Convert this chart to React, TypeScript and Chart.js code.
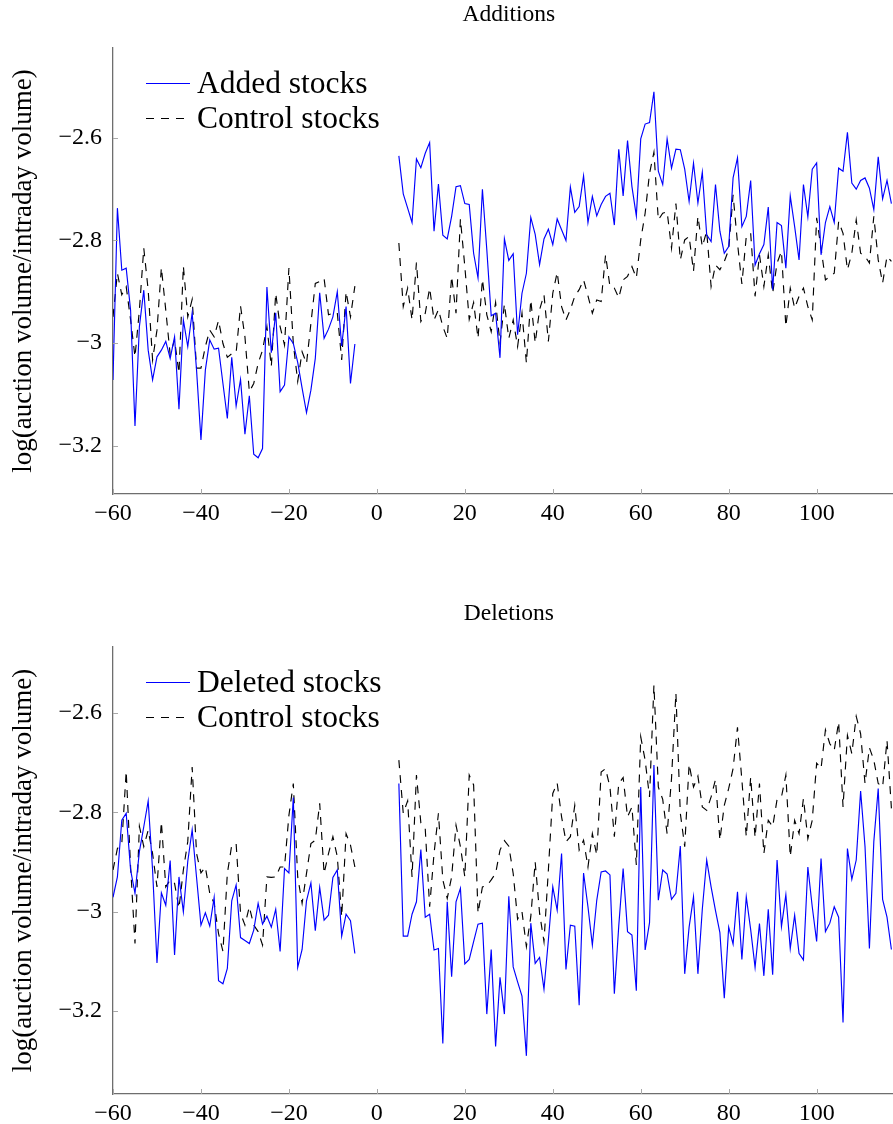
import React, { useEffect, useRef } from "react";
import { Chart, registerables } from "chart.js";

Chart.register(...registerables);

// ---------- data ----------
const PRE_FIRST_DAY = -60;
const PRE_LAST_DAY = -5;
const POST_FIRST_DAY = 5;
const POST_LAST_DAY = 117;

const xTickValues = [-60, -40, -20, 0, 20, 40, 60, 80, 100];
const yTickValues = [-2.6, -2.8, -3, -3.2];

// Additions panel
const addedPre = [
  -3.072, -2.737, -2.858, -2.854, -2.936, -3.162, -2.968, -2.897, -3.014, -3.072,
  -3.027, -3.014, -2.997, -3.03, -2.988, -3.129, -2.955, -3.007, -2.941, -3.053,
  -3.189, -3.053, -2.994, -3.012, -3.01, -3.079, -3.147, -3.028, -3.123, -3.071,
  -3.178, -3.103, -3.217, -3.224, -3.206, -2.891, -3.019, -2.941, -3.095, -3.082,
  -2.988, -3.001, -3.038, -3.088, -3.136, -3.092, -3.03, -2.902, -2.991, -2.973,
  -2.949, -2.9, -3.006, -2.929, -3.079, -3.002,
];
const addedPost = [
  -2.635, -2.709, -2.737, -2.765, -2.641, -2.658, -2.63, -2.609, -2.782, -2.69,
  -2.79, -2.797, -2.753, -2.695, -2.693, -2.728, -2.73, -2.825, -2.873, -2.7,
  -2.818, -2.947, -2.942, -3.029, -2.797, -2.839, -2.826, -2.984, -2.903, -2.864,
  -2.755, -2.788, -2.847, -2.797, -2.778, -2.808, -2.758, -2.779, -2.8, -2.696,
  -2.745, -2.734, -2.674, -2.765, -2.714, -2.752, -2.73, -2.714, -2.708, -2.77,
  -2.622, -2.713, -2.605, -2.695, -2.752, -2.602, -2.573, -2.57, -2.51, -2.665,
  -2.691, -2.602, -2.659, -2.622, -2.623, -2.661, -2.724, -2.649, -2.727, -2.667,
  -2.789, -2.802, -2.691, -2.782, -2.825, -2.812, -2.678, -2.639, -2.773, -2.753,
  -2.683, -2.848, -2.826, -2.808, -2.735, -2.896, -2.765, -2.771, -2.854, -2.713,
  -2.773, -2.838, -2.691, -2.754, -2.661, -2.649, -2.828, -2.765, -2.734, -2.765,
  -2.659, -2.665, -2.589, -2.688, -2.7, -2.683, -2.678, -2.698, -2.74, -2.637,
  -2.719, -2.683, -2.728,
];
const addControlPre = [
  -2.949, -2.864, -2.906, -2.89, -2.955, -3.027, -2.936, -2.815, -2.897, -3.033,
  -2.975, -2.853, -2.936, -3.023, -2.994, -3.059, -2.85, -2.949, -2.915, -3.049,
  -3.049, -3.007, -2.975, -2.988, -2.956, -3.001, -3.028, -3.021, -3.019, -2.928,
  -2.988, -3.095, -3.079, -3.04, -3.014, -2.968, -3.046, -2.903, -2.968, -3.004,
  -2.854, -3.001, -3.075, -3.017, -3.04, -2.962, -2.884, -2.88, -2.874, -2.945,
  -2.942, -2.941, -3.033, -2.9, -2.949, -2.889,
];
const addControlPost = [
  -2.805, -2.929, -2.893, -2.955, -2.843, -2.958, -2.942, -2.893, -2.955, -2.935,
  -2.968, -2.991, -2.87, -2.942, -2.758, -2.851, -2.954, -2.921, -2.991, -2.876,
  -2.945, -2.978, -2.921, -3.0, -2.924, -2.991, -2.955, -3.007, -2.942, -3.039,
  -2.916, -3.0, -2.935, -2.906, -2.997, -2.903, -2.862, -2.929, -2.955, -2.935,
  -2.909, -2.896, -2.877, -2.908, -2.942, -2.916, -2.919, -2.828, -2.89, -2.893,
  -2.912, -2.877, -2.87, -2.851, -2.873, -2.799, -2.747, -2.669, -2.628, -2.76,
  -2.747, -2.744, -2.815, -2.728, -2.838, -2.799, -2.792, -2.86, -2.753, -2.812,
  -2.782, -2.89, -2.848, -2.857, -2.841, -2.818, -2.711, -2.805, -2.885, -2.792,
  -2.786, -2.909, -2.828, -2.89, -2.828, -2.903, -2.844, -2.821, -2.968, -2.893,
  -2.932, -2.909, -2.893, -2.929, -2.955, -2.756, -2.815, -2.877, -2.87, -2.864,
  -2.763, -2.786, -2.857, -2.825, -2.76, -2.825, -2.831, -2.844, -2.753, -2.838,
  -2.883, -2.831, -2.841,
];

// Deletions panel
const deletedPre = [
  -2.971, -2.93, -2.816, -2.802, -2.916, -2.963, -2.879, -2.829, -2.777, -2.916,
  -3.103, -2.962, -2.987, -2.897, -3.087, -2.93, -3.0, -2.899, -2.835, -2.931,
  -3.027, -3.002, -3.029, -2.971, -3.139, -3.145, -3.114, -2.978, -2.946, -3.052,
  -3.058, -3.064, -3.037, -2.983, -3.025, -3.009, -3.031, -2.995, -3.08, -2.913,
  -2.922, -2.77, -3.112, -3.076, -2.978, -2.942, -3.038, -2.951, -3.017, -3.007,
  -2.931, -2.916, -3.049, -3.005, -3.018, -3.084,
];
const deletedPost = [
  -2.742, -3.049, -3.049, -3.005, -2.98, -2.875, -3.011, -3.005, -3.077, -3.074,
  -3.265, -2.98, -3.131, -2.98, -2.953, -3.105, -3.096, -3.06, -3.025, -3.023,
  -3.206, -3.076, -3.271, -3.132, -3.206, -2.969, -3.111, -3.141, -3.17, -3.29,
  -3.023, -3.104, -3.092, -3.156, -3.057, -2.95, -2.997, -2.883, -3.116, -3.027,
  -3.029, -3.188, -2.922, -2.99, -3.067, -2.977, -2.92, -2.918, -2.926, -3.165,
  -3.029, -2.913, -3.04, -3.047, -3.159, -2.749, -3.077, -3.022, -2.705, -2.977,
  -2.916, -2.924, -2.975, -2.963, -2.868, -3.125, -3.031, -2.97, -3.125, -2.995,
  -2.896, -2.95, -2.998, -3.042, -3.174, -3.031, -3.065, -2.96, -3.096, -2.97,
  -3.036, -3.112, -3.024, -3.129, -2.995, -3.127, -2.896, -3.03, -2.966, -3.074,
  -3.007, -3.084, -3.097, -2.91, -2.99, -3.06, -2.893, -3.04, -3.023, -2.99,
  -3.011, -3.223, -2.873, -2.935, -2.896, -2.757, -2.869, -3.074, -2.859, -2.752,
  -2.975, -3.011, -3.076,
];
const delControlPre = [
  -2.916, -2.873, -2.863, -2.717, -2.91, -3.064, -2.828, -2.869, -2.836, -2.883,
  -2.95, -2.819, -2.95, -2.936, -2.943, -2.993, -2.916, -2.859, -2.709, -2.883,
  -2.922, -2.91, -2.963, -2.983, -3.044, -3.08, -2.923, -2.866, -2.863, -3.003,
  -3.027, -2.99, -3.027, -3.04, -3.067, -2.93, -2.931, -2.93, -2.91, -2.91,
  -2.806, -2.742, -2.93, -2.983, -2.923, -2.863, -2.856, -2.782, -2.923, -2.883,
  -2.849, -2.889, -3.01, -2.843, -2.866, -2.91,
];
const delControlPost = [
  -2.695, -2.802, -2.777, -2.93, -2.725, -2.821, -2.833, -2.99, -2.883, -2.802,
  -2.936, -2.973, -2.93, -2.826, -2.869, -2.93, -2.725, -2.745, -3.003, -2.95,
  -2.948, -2.936, -2.923, -2.876, -2.857, -2.868, -2.923, -3.015, -3.0, -3.07,
  -3.01, -2.9, -3.003, -3.06, -2.916, -2.762, -2.741, -2.809, -2.859, -2.849,
  -2.786, -2.876, -2.856, -2.91, -2.843, -2.886, -2.719, -2.712, -2.749, -2.849,
  -2.742, -2.73, -2.809, -2.789, -2.906, -2.648, -2.695, -2.769, -2.544, -2.749,
  -2.774, -2.843, -2.732, -2.56, -2.802, -2.869, -2.703, -2.749, -2.727, -2.789,
  -2.796, -2.769, -2.734, -2.856, -2.786, -2.752, -2.712, -2.629, -2.735, -2.849,
  -2.729, -2.851, -2.742, -2.883, -2.816, -2.829, -2.774, -2.769, -2.725, -2.889,
  -2.816, -2.843, -2.772, -2.853, -2.816, -2.701, -2.712, -2.634, -2.662, -2.675,
  -2.618, -2.789, -2.645, -2.682, -2.607, -2.642, -2.742, -2.67, -2.695, -2.742,
  -2.749, -2.655, -2.792,
];

// ---------- helpers ----------
function dayList(first: number, last: number): number[] {
  const out: number[] = [];
  for (let d = first; d <= last; d++) out.push(d);
  return out;
}
const preDays = dayList(PRE_FIRST_DAY, PRE_LAST_DAY);
const postDays = dayList(POST_FIRST_DAY, POST_LAST_DAY);

function buildSeries(pre: number[], post: number[]) {
  return [
    ...preDays.map((d, i) => ({ x: d, y: pre[i] })),
    { x: 0, y: null as any },
    ...postDays.map((d, i) => ({ x: d, y: post[i] })),
  ];
}

const fmt = (v: number) => {
  const a = Math.abs(v);
  const s = String(Math.round(a * 10) / 10);
  return v < 0 ? "\u2212" + s : s;
};

const FONT = "'Liberation Serif', 'Times New Roman', serif";
const CANVAS_W = 940;
const CANVAS_H = 526;
const PLOT_RIGHT = 904.6;
const DASH = [8, 7];

type PanelProps = {
  title: string;
  mainLabel: string;
  mainPre: number[];
  mainPost: number[];
  ctrlPre: number[];
  ctrlPost: number[];
  yMin: number;
  yMax: number;
  top: number;
  areaTop: number;
  areaBottom: number;
};

function Panel(p: PanelProps) {
  const ref = useRef<HTMLCanvasElement | null>(null);

  useEffect(() => {
    if (!ref.current) return;

    const decor = {
      id: "decor",
      afterDraw(chart: any) {
        const ctx = chart.ctx;
        const area = chart.chartArea;
        const xs = chart.scales.x;
        const ys = chart.scales.y;
        ctx.save();
        // inward tick marks
        ctx.strokeStyle = "#a8a8a8";
        ctx.lineWidth = 1;
        xTickValues.forEach((v) => {
          const px = Math.round(xs.getPixelForValue(v)) + 0.5;
          ctx.beginPath();
          ctx.moveTo(px, area.bottom);
          ctx.lineTo(px, area.bottom - 5);
          ctx.stroke();
        });
        yTickValues.forEach((v) => {
          const py = Math.round(ys.getPixelForValue(v)) + 0.5;
          ctx.beginPath();
          ctx.moveTo(area.left, py);
          ctx.lineTo(area.left + 5, py);
          ctx.stroke();
        });
        // title
        ctx.fillStyle = "#000";
        ctx.font = `23.5px ${FONT}`;
        ctx.textAlign = "center";
        ctx.textBaseline = "middle";
        ctx.fillText(p.title, (area.left + area.right) / 2, area.top - 33);
        // legend
        ctx.font = `31.5px ${FONT}`;
        ctx.textAlign = "left";
        ctx.textBaseline = "alphabetic";
        chart.data.datasets.forEach((ds: any, i: number) => {
          const y = area.top + 35 + i * 35;
          ctx.save();
          ctx.strokeStyle = ds.borderColor;
          ctx.lineWidth = ds.borderWidth;
          ctx.setLineDash(ds.borderDash || []);
          ctx.beginPath();
          ctx.moveTo(area.left + 33, y + 0.5);
          ctx.lineTo(area.left + 77, y + 0.5);
          ctx.stroke();
          ctx.restore();
          ctx.fillStyle = "#000";
          ctx.fillText(ds.label, area.left + 84, y + 10);
        });
        ctx.restore();
      },
    };

    const chart = new Chart(ref.current, {
      type: "line",
      data: {
        datasets: [
          {
            label: p.mainLabel,
            data: buildSeries(p.mainPre, p.mainPost),
            borderColor: "#0000ff",
            borderWidth: 1.15,
            pointRadius: 0,
            tension: 0,
            fill: false,
            spanGaps: false,
          },
          {
            label: "Control stocks",
            data: buildSeries(p.ctrlPre, p.ctrlPost),
            borderColor: "#000000",
            borderWidth: 1.15,
            borderDash: DASH,
            pointRadius: 0,
            tension: 0,
            fill: false,
            spanGaps: false,
          },
        ],
      } as any,
      options: {
        responsive: false,
        animation: false,
        events: [],
        layout: {
          padding: { left: 0, top: p.areaTop, right: CANVAS_W - PLOT_RIGHT, bottom: 0 },
        },
        plugins: {
          legend: { display: false },
          tooltip: { enabled: false },
          title: { display: false },
        },
        scales: {
          x: {
            type: "linear",
            min: -60,
            max: 120,
            afterBuildTicks: (s: any) => {
              s.ticks = xTickValues.map((v) => ({ value: v }));
            },
            afterFit: (s: any) => {
              s.height = CANVAS_H - p.areaBottom;
            },
            grid: { display: false, drawTicks: false },
            border: { display: true, color: "#6e6e6e", width: 1.3 },
            ticks: {
              font: { family: FONT, size: 24 },
              color: "#000",
              padding: 5,
              maxRotation: 0,
              autoSkip: false,
              callback: (v: any) => fmt(Number(v)),
            },
          },
          y: {
            type: "linear",
            min: p.yMin,
            max: p.yMax,
            afterBuildTicks: (s: any) => {
              s.ticks = yTickValues.map((v) => ({ value: v }));
            },
            afterFit: (s: any) => {
              s.width = 113;
            },
            grid: { display: false, drawTicks: false },
            border: { display: true, color: "#6e6e6e", width: 1.3 },
            ticks: {
              font: { family: FONT, size: 24 },
              color: "#000",
              padding: 11,
              autoSkip: false,
              callback: (v: any) => fmt(Number(v)),
            },
            title: {
              display: true,
              text: "log(auction volume/intraday volume)",
              font: { family: FONT, size: 27 },
              color: "#000",
              padding: { top: 8, bottom: 0 },
            },
          },
        },
      } as any,
      plugins: [decor],
    });

    return () => chart.destroy();
  }, []);

  return (
    <canvas
      ref={ref}
      width={CANVAS_W}
      height={CANVAS_H}
      style={{ position: "absolute", left: 0, top: p.top, width: CANVAS_W, height: CANVAS_H, display: "block" }}
    />
  );
}

export default function App() {
  return (
    <div
      style={{
        position: "fixed",
        left: 0,
        top: 0,
        width: 893,
        height: 1124,
        overflow: "hidden",
        background: "#ffffff",
      }}
    >
      <Panel
        title="Additions"
        mainLabel="Added stocks"
        mainPre={addedPre}
        mainPost={addedPost}
        ctrlPre={addControlPre}
        ctrlPost={addControlPost}
        yMin={-3.2946}
        yMax={-2.4246}
        top={0}
        areaTop={48}
        areaBottom={494}
      />
      <Panel
        title="Deletions"
        mainLabel="Deleted stocks"
        mainPre={deletedPre}
        mainPost={deletedPost}
        ctrlPre={delControlPre}
        ctrlPost={delControlPost}
        yMin={-3.3668}
        yMax={-2.4673}
        top={598}
        areaTop={49}
        areaBottom={496}
      />
    </div>
  );
}
